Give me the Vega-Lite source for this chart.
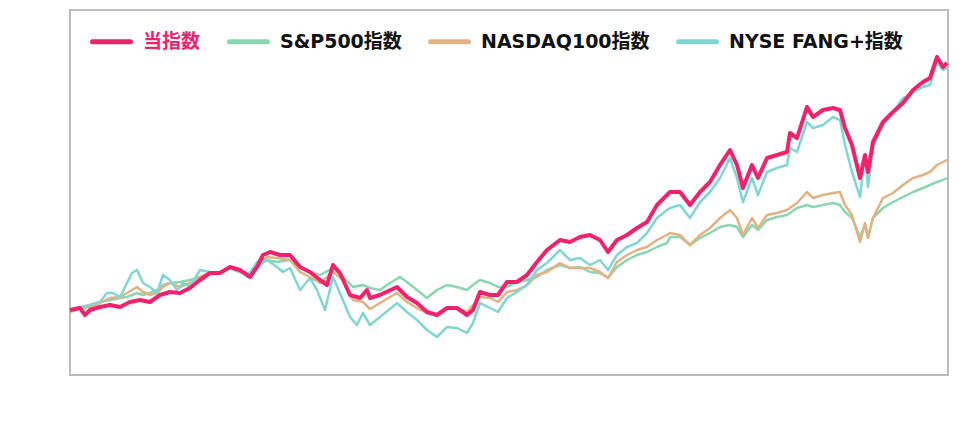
{
  "$schema": "https://vega.github.io/schema/vega-lite/v6.json",
  "width": 878,
  "height": 365,
  "autosize": "none",
  "padding": {"left": 70, "top": 10, "right": 32, "bottom": 67},
  "background": "#ffffff",
  "config": {"view": {"stroke": "#bcbcbc", "strokeWidth": 2}, "font": "DejaVu Sans"},
  "datasets": {
    "red": [
      {"d":0,"v":65},{"d":20,"v":67},{"d":30,"v":60},{"d":40,"v":65},{"d":60,"v":68},{"d":80,"v":70},{"d":100,"v":68},{"d":120,"v":73},{"d":140,"v":75},{"d":160,"v":73},{"d":180,"v":80},{"d":200,"v":83},{"d":220,"v":82},{"d":240,"v":87},{"d":260,"v":95},{"d":280,"v":102},{"d":300,"v":102},{"d":320,"v":108},{"d":340,"v":105},{"d":360,"v":98},{"d":374,"v":108},{"d":386,"v":120},{"d":400,"v":123},{"d":420,"v":120},{"d":440,"v":120},{"d":460,"v":108},{"d":480,"v":103},{"d":500,"v":95},{"d":514,"v":90},{"d":526,"v":110},{"d":540,"v":102},{"d":560,"v":80},{"d":580,"v":77},{"d":594,"v":85},{"d":600,"v":77},{"d":620,"v":80},{"d":654,"v":88},{"d":674,"v":78},{"d":694,"v":72},{"d":714,"v":63},{"d":734,"v":60},{"d":754,"v":67},{"d":774,"v":67},{"d":794,"v":60},{"d":806,"v":65},{"d":820,"v":83},{"d":840,"v":80},{"d":856,"v":80},{"d":874,"v":93},{"d":894,"v":93},{"d":914,"v":100},{"d":934,"v":113},{"d":954,"v":125},{"d":980,"v":135},{"d":1000,"v":133},{"d":1020,"v":138},{"d":1040,"v":140},{"d":1060,"v":135},{"d":1076,"v":123},{"d":1094,"v":135},{"d":1114,"v":140},{"d":1134,"v":147},{"d":1154,"v":153},{"d":1174,"v":170},{"d":1194,"v":180},{"d":1200,"v":183},{"d":1220,"v":183},{"d":1240,"v":170},{"d":1260,"v":183},{"d":1280,"v":193},{"d":1300,"v":210},{"d":1320,"v":225},{"d":1334,"v":210},{"d":1346,"v":187},{"d":1364,"v":210},{"d":1376,"v":197},{"d":1394,"v":217},{"d":1414,"v":220},{"d":1434,"v":223},{"d":1440,"v":242},{"d":1454,"v":237},{"d":1474,"v":268},{"d":1486,"v":258},{"d":1506,"v":265},{"d":1526,"v":267},{"d":1540,"v":265},{"d":1550,"v":247},{"d":1564,"v":230},{"d":1580,"v":197},{"d":1590,"v":220},{"d":1596,"v":203},{"d":1606,"v":233},{"d":1626,"v":253},{"d":1646,"v":263},{"d":1666,"v":272},{"d":1686,"v":285},{"d":1706,"v":293},{"d":1720,"v":297},{"d":1734,"v":318},{"d":1746,"v":308},{"d":1754,"v":312}
    ],
    "fang": [
      {"d":0,"v":65},{"d":20,"v":68},{"d":40,"v":70},{"d":60,"v":73},{"d":74,"v":82},{"d":86,"v":82},{"d":100,"v":78},{"d":114,"v":92},{"d":124,"v":102},{"d":134,"v":105},{"d":146,"v":92},{"d":160,"v":88},{"d":174,"v":82},{"d":186,"v":100},{"d":200,"v":95},{"d":214,"v":85},{"d":226,"v":92},{"d":240,"v":88},{"d":260,"v":105},{"d":280,"v":103},{"d":300,"v":102},{"d":320,"v":107},{"d":340,"v":103},{"d":360,"v":102},{"d":374,"v":113},{"d":394,"v":115},{"d":414,"v":108},{"d":426,"v":103},{"d":440,"v":107},{"d":460,"v":85},{"d":480,"v":97},{"d":494,"v":85},{"d":510,"v":65},{"d":526,"v":98},{"d":540,"v":82},{"d":560,"v":58},{"d":574,"v":50},{"d":586,"v":62},{"d":600,"v":50},{"d":620,"v":58},{"d":654,"v":72},{"d":674,"v":63},{"d":694,"v":55},{"d":714,"v":45},{"d":734,"v":38},{"d":754,"v":48},{"d":774,"v":47},{"d":794,"v":42},{"d":806,"v":52},{"d":820,"v":72},{"d":840,"v":67},{"d":856,"v":63},{"d":874,"v":77},{"d":894,"v":83},{"d":914,"v":90},{"d":934,"v":105},{"d":954,"v":112},{"d":980,"v":125},{"d":1000,"v":115},{"d":1020,"v":117},{"d":1040,"v":110},{"d":1060,"v":115},{"d":1076,"v":105},{"d":1094,"v":120},{"d":1114,"v":128},{"d":1134,"v":132},{"d":1154,"v":142},{"d":1174,"v":157},{"d":1194,"v":165},{"d":1200,"v":167},{"d":1220,"v":170},{"d":1240,"v":157},{"d":1260,"v":173},{"d":1280,"v":183},{"d":1300,"v":197},{"d":1320,"v":217},{"d":1334,"v":197},{"d":1346,"v":173},{"d":1364,"v":197},{"d":1376,"v":180},{"d":1394,"v":203},{"d":1414,"v":207},{"d":1434,"v":210},{"d":1440,"v":227},{"d":1454,"v":223},{"d":1474,"v":253},{"d":1486,"v":247},{"d":1506,"v":250},{"d":1526,"v":258},{"d":1540,"v":255},{"d":1550,"v":230},{"d":1564,"v":203},{"d":1580,"v":178},{"d":1590,"v":220},{"d":1596,"v":188},{"d":1606,"v":227},{"d":1626,"v":250},{"d":1646,"v":263},{"d":1666,"v":277},{"d":1686,"v":282},{"d":1706,"v":288},{"d":1720,"v":290},{"d":1734,"v":312},{"d":1746,"v":305},{"d":1754,"v":307}
    ],
    "ndx": [
      {"d":0,"v":63},{"d":20,"v":67},{"d":40,"v":68},{"d":60,"v":72},{"d":80,"v":77},{"d":100,"v":78},{"d":114,"v":82},{"d":134,"v":88},{"d":146,"v":83},{"d":160,"v":80},{"d":174,"v":82},{"d":186,"v":88},{"d":200,"v":92},{"d":220,"v":88},{"d":240,"v":92},{"d":260,"v":98},{"d":280,"v":102},{"d":300,"v":103},{"d":320,"v":107},{"d":340,"v":103},{"d":360,"v":100},{"d":374,"v":110},{"d":394,"v":118},{"d":414,"v":117},{"d":440,"v":115},{"d":460,"v":103},{"d":480,"v":98},{"d":500,"v":92},{"d":526,"v":103},{"d":546,"v":95},{"d":566,"v":75},{"d":586,"v":73},{"d":600,"v":66},{"d":620,"v":72},{"d":654,"v":82},{"d":674,"v":73},{"d":694,"v":67},{"d":714,"v":62},{"d":734,"v":60},{"d":754,"v":67},{"d":774,"v":67},{"d":794,"v":63},{"d":806,"v":70},{"d":820,"v":78},{"d":840,"v":77},{"d":856,"v":73},{"d":874,"v":83},{"d":894,"v":85},{"d":914,"v":90},{"d":934,"v":100},{"d":954,"v":103},{"d":980,"v":112},{"d":1000,"v":107},{"d":1020,"v":107},{"d":1040,"v":107},{"d":1060,"v":103},{"d":1076,"v":97},{"d":1094,"v":113},{"d":1114,"v":120},{"d":1134,"v":125},{"d":1154,"v":128},{"d":1174,"v":135},{"d":1194,"v":140},{"d":1200,"v":142},{"d":1220,"v":140},{"d":1240,"v":130},{"d":1260,"v":140},{"d":1280,"v":147},{"d":1300,"v":157},{"d":1320,"v":165},{"d":1334,"v":157},{"d":1346,"v":140},{"d":1364,"v":157},{"d":1376,"v":147},{"d":1394,"v":160},{"d":1414,"v":162},{"d":1434,"v":165},{"d":1454,"v":172},{"d":1474,"v":183},{"d":1486,"v":177},{"d":1506,"v":180},{"d":1526,"v":182},{"d":1540,"v":183},{"d":1550,"v":170},{"d":1564,"v":160},{"d":1580,"v":133},{"d":1590,"v":152},{"d":1596,"v":137},{"d":1606,"v":157},{"d":1626,"v":177},{"d":1646,"v":182},{"d":1666,"v":190},{"d":1686,"v":197},{"d":1706,"v":200},{"d":1720,"v":203},{"d":1734,"v":210},{"d":1746,"v":213},{"d":1754,"v":215}
    ],
    "spx": [
      {"d":0,"v":63},{"d":20,"v":67},{"d":40,"v":70},{"d":60,"v":73},{"d":80,"v":75},{"d":100,"v":77},{"d":114,"v":78},{"d":134,"v":82},{"d":146,"v":80},{"d":160,"v":82},{"d":174,"v":85},{"d":186,"v":90},{"d":200,"v":92},{"d":220,"v":93},{"d":240,"v":95},{"d":260,"v":98},{"d":280,"v":102},{"d":300,"v":103},{"d":320,"v":107},{"d":340,"v":103},{"d":360,"v":100},{"d":374,"v":108},{"d":394,"v":115},{"d":414,"v":113},{"d":440,"v":115},{"d":460,"v":108},{"d":480,"v":103},{"d":500,"v":100},{"d":526,"v":107},{"d":546,"v":98},{"d":566,"v":88},{"d":586,"v":90},{"d":600,"v":87},{"d":620,"v":85},{"d":640,"v":92},{"d":660,"v":98},{"d":674,"v":93},{"d":694,"v":85},{"d":714,"v":77},{"d":734,"v":85},{"d":754,"v":90},{"d":774,"v":88},{"d":794,"v":85},{"d":806,"v":90},{"d":820,"v":95},{"d":840,"v":92},{"d":856,"v":88},{"d":874,"v":88},{"d":894,"v":93},{"d":914,"v":95},{"d":934,"v":98},{"d":954,"v":105},{"d":980,"v":110},{"d":1000,"v":107},{"d":1020,"v":108},{"d":1040,"v":103},{"d":1060,"v":102},{"d":1076,"v":97},{"d":1094,"v":108},{"d":1114,"v":115},{"d":1134,"v":120},{"d":1154,"v":123},{"d":1174,"v":128},{"d":1194,"v":132},{"d":1200,"v":138},{"d":1220,"v":138},{"d":1240,"v":130},{"d":1260,"v":137},{"d":1280,"v":142},{"d":1300,"v":148},{"d":1320,"v":150},{"d":1334,"v":148},{"d":1346,"v":138},{"d":1364,"v":150},{"d":1376,"v":145},{"d":1394,"v":155},{"d":1414,"v":158},{"d":1434,"v":160},{"d":1454,"v":167},{"d":1474,"v":170},{"d":1486,"v":168},{"d":1506,"v":170},{"d":1526,"v":172},{"d":1540,"v":170},{"d":1550,"v":163},{"d":1564,"v":157},{"d":1580,"v":138},{"d":1590,"v":150},{"d":1596,"v":138},{"d":1606,"v":157},{"d":1626,"v":167},{"d":1646,"v":173},{"d":1666,"v":178},{"d":1686,"v":183},{"d":1706,"v":187},{"d":1720,"v":190},{"d":1734,"v":193},{"d":1746,"v":195},{"d":1754,"v":197}
    ]
  },
  "encoding": {
    "x": {"field": "d", "type": "quantitative", "scale": {"domain": [0, 1756], "nice": false, "zero": false}, "axis": null},
    "y": {"field": "v", "type": "quantitative", "scale": {"domain": [0, 365], "nice": false, "zero": false}, "axis": null}
  },
  "layer": [
    {
      "data": {"name": "spx"},
      "mark": {"type": "line", "strokeWidth": 2.5, "strokeJoin": "round"},
      "encoding": {
        "color": {
          "datum": "S&P500指数",
          "type": "nominal",
          "scale": {
            "domain": ["当指数", "S&P500指数", "NASDAQ100指数", "NYSE FANG+指数"],
            "range": ["#f0226c", "#8ad6b1", "#e2b283", "#82d5d5"]
          },
          "legend": {
            "orient": "none",
            "legendX": 20,
            "legendY": 10,
            "direction": "horizontal",
            "columns": 4,
            "title": null,
            "symbolType": "stroke",
            "symbolSize": 1444,
            "symbolStrokeWidth": 5,
            "labelFont": "DejaVu Sans, Noto Sans CJK JP, sans-serif",
            "labelFontSize": 19,
            "labelFontWeight": "bold",
            "labelColor": "#111111",
            "labelOffset": 10,
            "columnPadding": 18,
            "labelLimit": 400,
            "encode": {
              "labels": {"update": {"fill": [{"test": "datum.value === '当指数'", "value": "#f0226c"}, {"value": "#111111"}]}},
              "symbols": {"update": {"strokeCap": {"value": "round"}}}
            }
          }
        }
      }
    },
    {
      "data": {"name": "ndx"},
      "mark": {"type": "line", "strokeWidth": 2.5, "strokeJoin": "round"},
      "encoding": {"color": {"datum": "NASDAQ100指数", "type": "nominal"}}
    },
    {
      "data": {"name": "fang"},
      "mark": {"type": "line", "strokeWidth": 2.5, "strokeJoin": "round"},
      "encoding": {"color": {"datum": "NYSE FANG+指数", "type": "nominal"}}
    },
    {
      "data": {"name": "red"},
      "mark": {"type": "line", "strokeWidth": 4, "strokeJoin": "round"},
      "encoding": {"color": {"datum": "当指数", "type": "nominal"}}
    }
  ]
}
